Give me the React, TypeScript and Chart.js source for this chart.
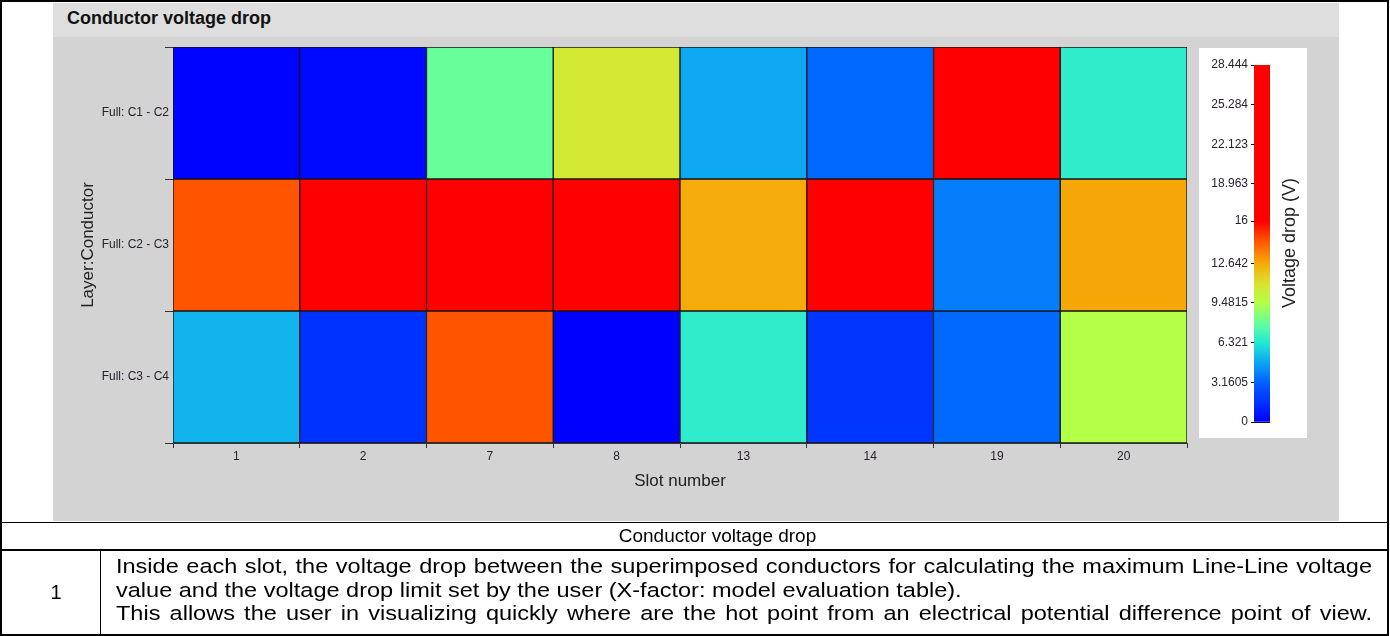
import React, { useEffect, useRef } from 'react';
import { Chart, registerables } from 'chart.js';

Chart.register(...registerables);

// ---- data ----
const slots = ['1', '2', '7', '8', '13', '14', '19', '20'];
const layers = ['Full: C1 - C2', 'Full: C2 - C3', 'Full: C3 - C4'];
const dropC1C2 = [0.1, 0.3, 7.9, 10.8, 4.8, 3.3, 24.6, 6.6];
const dropC2C3 = [14.4, 26.1, 28.444, 23.5, 12.6, 21.7, 3.8, 12.7];
const dropC3C4 = [5.1, 1.6, 14.4, 0.0, 6.6, 1.7, 3.3, 9.5];
const rowValues = [dropC1C2, dropC2C3, dropC3C4];
const scaleMax = 28.444;
const colorbarTicks = [0, 3.1605, 6.321, 9.4815, 12.642, 16, 18.963, 22.123, 25.284, 28.444];
const colorbarTickLabels = ['0', '3.1605', '6.321', '9.4815', '12.642', '16', '18.963', '22.123', '25.284', '28.444'];
const cmapStops: [number, string][] = [
  [0, '#0000ff'],
  [3.16, '#0062ff'],
  [5.0, '#10b0f0'],
  [6.32, '#24e8d4'],
  [7.9, '#66ff99'],
  [9.48, '#b4ff48'],
  [11.0, '#d8e430'],
  [12.64, '#f6aa08'],
  [14.4, '#ff5500'],
  [16, '#ff0000'],
  [28.444, '#ff0000'],
];

const FONT = '"Liberation Sans", Arial, sans-serif';

function hexToRgb(h: string) {
  const n = parseInt(h.slice(1), 16);
  return [(n >> 16) & 255, (n >> 8) & 255, n & 255];
}
function colorFor(v: number) {
  for (let i = 1; i < cmapStops.length; i++) {
    const [v1, c1] = cmapStops[i];
    const [v0, c0] = cmapStops[i - 1];
    if (v <= v1) {
      const t = v1 === v0 ? 0 : Math.max(0, (v - v0) / (v1 - v0));
      const a = hexToRgb(c0);
      const b = hexToRgb(c1);
      const m = a.map((x, k) => Math.round(x + (b[k] - x) * t));
      return `rgb(${m[0]},${m[1]},${m[2]})`;
    }
  }
  return cmapStops[cmapStops.length - 1][1];
}

export default function App() {
  const mainRef = useRef<HTMLCanvasElement>(null);
  const barRef = useRef<HTMLCanvasElement>(null);

  useEffect(() => {
    Chart.defaults.font.family = FONT;
    const main = new Chart(mainRef.current!, {
      type: 'bar',
      data: {
        labels: slots,
        datasets: rowValues.map((vals, r) => ({
          label: layers[r],
          data: vals.map(() => [r, r + 1]),
          backgroundColor: vals.map(colorFor),
          borderColor: '#151515',
          borderWidth: 1,
          borderSkipped: false,
          barPercentage: 1,
          categoryPercentage: 1,
          grouped: false,
        })),
      } as any,
      options: {
        responsive: false,
        animation: false,
        devicePixelRatio: 1,
        layout: { padding: { top: 10, right: 152, left: 0, bottom: 0 } },
        plugins: { legend: { display: false }, tooltip: { enabled: false } },
        scales: {
          x: {
            type: 'category',
            offset: true,
            grid: { offset: true, drawOnChartArea: false, drawTicks: true, tickLength: 5, color: '#333' },
            border: { display: true, color: '#333', width: 1 },
            ticks: { font: { size: 12 }, color: '#2a2030', padding: 1, maxRotation: 0, autoSkip: false },
            title: { display: true, text: 'Slot number', font: { size: 17 }, color: '#222', padding: { top: 0, bottom: 29 } },
            afterFit: (s: any) => { s.height = 78; },
          },
          y: { type: 'linear', display: false, min: 0, max: 3, reverse: true },
          yLayer: {
            type: 'category',
            labels: layers,
            position: 'left',
            offset: true,
            grid: { offset: true, drawOnChartArea: false, drawTicks: true, tickLength: 8, color: '#333' },
            border: { display: true, color: '#333', width: 1 },
            ticks: { font: { size: 12 }, color: '#2a2030', padding: -4 },
            title: { display: true, text: 'Layer:Conductor', font: { size: 17 }, color: '#222', padding: { top: 25, bottom: 0 } },
            afterFit: (s: any) => { s.width = 120; },
          },
        } as any,
      },
    });

    const bar = new Chart(barRef.current!, {
      type: 'bar',
      data: {
        labels: ['Voltage drop (V)'],
        datasets: [{
          data: [[0, scaleMax]],
          backgroundColor: (ctx: any) => {
            const chart = ctx.chart;
            const a = chart.chartArea;
            if (!a) return '#ff0000';
            const g = chart.ctx.createLinearGradient(0, a.bottom, 0, a.top);
            cmapStops.forEach(([v, c]) => g.addColorStop(v / scaleMax, c));
            return g;
          },
          borderWidth: 0,
          barPercentage: 1,
          categoryPercentage: 1,
        }],
      } as any,
      options: {
        responsive: false,
        animation: false,
        devicePixelRatio: 1,
        layout: { padding: { top: 17, bottom: 16, left: 0, right: 37 } },
        plugins: { legend: { display: false }, tooltip: { enabled: false } },
        scales: {
          x: { display: false },
          y: {
            min: 0,
            max: scaleMax,
            z: 1,
            afterBuildTicks: (s: any) => { s.ticks = colorbarTicks.map((v) => ({ value: v })); },
            ticks: {
              callback: (v: any) => colorbarTickLabels[colorbarTicks.indexOf(Number(v))] ?? '',
              font: { size: 12 },
              color: '#2a2030',
              padding: 3,
            },
            grid: { color: '#111', tickLength: 3, drawOnChartArea: true, lineWidth: 1 },
            border: { display: false },
            afterFit: (s: any) => { s.width = 55; },
          },
        } as any,
      },
    });

    return () => { main.destroy(); bar.destroy(); };
  }, []);

  const abs = (o: React.CSSProperties): React.CSSProperties => ({ position: 'absolute', ...o });
  const just: React.CSSProperties = { textAlign: 'justify', textAlignLast: 'justify' as any, whiteSpace: 'normal' };

  return (
    <div style={abs({ left: 0, top: 0, width: 1390, height: 636, background: '#fff', fontFamily: FONT, color: '#000' })}>
      {/* chart image */}
      <div style={abs({ left: 53, top: 3, width: 1286, height: 518, background: '#d3d3d3' })} />
      <div style={abs({ left: 53, top: 3, width: 1286, height: 34, background: '#dedede' })} />
      <div style={abs({ left: 67, top: 8, fontWeight: 'bold', fontSize: 18, lineHeight: '20px', color: '#111', whiteSpace: 'nowrap' })}>
        Conductor voltage drop
      </div>
      <canvas ref={mainRef} width={1286} height={484} style={abs({ left: 53, top: 37, width: 1286, height: 484 })} />
      <div style={abs({ left: 1199, top: 48, width: 108, height: 390, background: '#fff' })} />
      <canvas ref={barRef} width={108} height={390} style={abs({ left: 1199, top: 48, width: 108, height: 390 })} />
      <div style={abs({ left: 1289, top: 243, width: 0, height: 0 })}>
        <div style={abs({ left: 0, top: 0, transform: 'translate(-50%, -50%) rotate(-90deg)', fontSize: 18, lineHeight: '20px', color: '#222', whiteSpace: 'nowrap' })}>
          Voltage drop (V)
        </div>
      </div>

      {/* table borders */}
      <div style={abs({ left: 0, top: 0, width: 1389, height: 636, boxSizing: 'border-box', border: '2px solid #000' })} />
      <div style={abs({ left: 0, top: 522, width: 1389, height: 1, background: '#000' })} />
      <div style={abs({ left: 0, top: 549, width: 1389, height: 2, background: '#000' })} />
      <div style={abs({ left: 100, top: 550, width: 1, height: 85, background: '#000' })} />

      {/* caption */}
      <div style={abs({ left: 417, top: 523, width: 601, height: 26, lineHeight: '26px', fontSize: 19, textAlign: 'center', whiteSpace: 'nowrap' })}>
        Conductor voltage drop
      </div>
      <div style={abs({ left: 12, top: 551, width: 88, height: 83, lineHeight: '83px', fontSize: 20, textAlign: 'center' })}>1</div>
      <div style={abs({ left: 116, top: 554, width: 1095, fontSize: 20.5, lineHeight: '23.5px', transform: 'scaleX(1.147)', transformOrigin: '0 0' })}>
        <div style={just}>Inside each slot, the voltage drop between the superimposed conductors for calculating the maximum Line-Line voltage</div>
        <div style={{ whiteSpace: 'nowrap' }}>value and the voltage drop limit set by the user (X-factor: model evaluation table).</div>
        <div style={just}>This allows the user in visualizing quickly where are the hot point from an electrical potential difference point of view.</div>
      </div>
    </div>
  );
}
